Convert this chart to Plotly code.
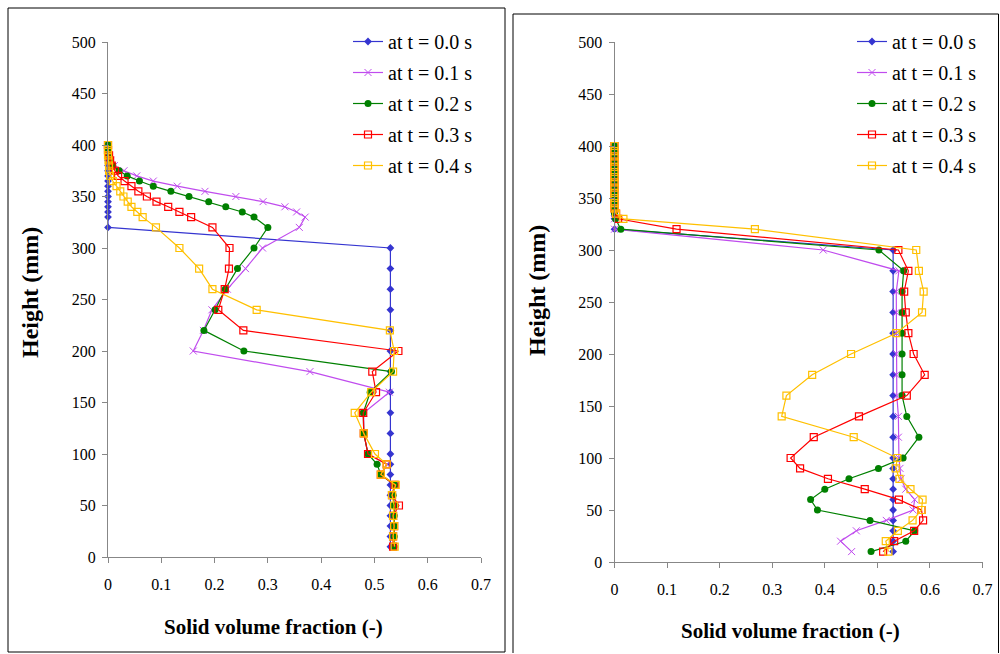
import plotly.graph_objects as go

# ---------------- data ----------------
heights = [400, 395, 390, 385, 380, 375, 370, 365, 360, 355, 350, 345, 340, 335, 330,
           320, 300, 280, 260, 240, 220, 200, 180, 160, 140, 120, 100,
           90, 80, 70, 60, 50, 40, 30, 20, 10]

series_names = ["at t = 0.0 s", "at t = 0.1 s", "at t = 0.2 s", "at t = 0.3 s", "at t = 0.4 s"]

# left panel
left_t00 = [0, 0, 0, 0, 0, 0, 0, 0, 0, 0, 0, 0, 0, 0, 0,
            0, 0.53, 0.53, 0.53, 0.53, 0.53, 0.53, 0.53, 0.53, 0.53, 0.53, 0.53,
            0.53, 0.53, 0.53, 0.53, 0.53, 0.53, 0.53, 0.53, 0.53]
left_t01 = [0, 0, 0, 0.005, 0.012, 0.03, 0.054, 0.085, 0.13, 0.182, 0.24, 0.291, 0.332, 0.354, 0.37,
            0.359, 0.29, 0.258, 0.224, 0.195, 0.179, 0.16, 0.379, 0.528, 0.48, 0.48, 0.488,
            0.524, 0.512, 0.538, 0.533, 0.54, 0.535, 0.537, 0.535, 0.537]
left_t02 = [0, 0, 0, 0.003, 0.009, 0.021, 0.036, 0.059, 0.085, 0.118, 0.152, 0.189, 0.221, 0.252, 0.274,
            0.300, 0.274, 0.243, 0.220, 0.201, 0.180, 0.255, 0.532, 0.492, 0.479, 0.480, 0.488,
            0.505, 0.512, 0.538, 0.535, 0.537, 0.537, 0.537, 0.537, 0.537]
left_t03 = [0, 0, 0.002, 0.004, 0.007, 0.013, 0.019, 0.031, 0.044, 0.057, 0.073, 0.091, 0.113, 0.134, 0.156,
            0.196, 0.228, 0.227, 0.219, 0.207, 0.254, 0.545, 0.496, 0.503, 0.479, 0.480, 0.488,
            0.523, 0.512, 0.538, 0.533, 0.546, 0.535, 0.537, 0.535, 0.535]
left_t04 = [0, 0, 0, 0.001, 0.002, 0.002, 0.004, 0.009, 0.016, 0.023, 0.029, 0.037, 0.044, 0.055, 0.065,
            0.090, 0.134, 0.171, 0.196, 0.279, 0.529, 0.537, 0.535, 0.494, 0.463, 0.480, 0.501,
            0.523, 0.512, 0.540, 0.533, 0.537, 0.535, 0.537, 0.535, 0.538]

# right panel
right_t00 = [0, 0, 0, 0, 0, 0, 0, 0, 0, 0, 0, 0, 0, 0, 0,
             0, 0.53, 0.53, 0.53, 0.53, 0.53, 0.53, 0.53, 0.53, 0.53, 0.53, 0.53,
             0.53, 0.53, 0.53, 0.53, 0.53, 0.53, 0.53, 0.53, 0.53]
right_t01 = [0, 0, 0, 0, 0, 0, 0, 0, 0, 0, 0, 0, 0, 0, 0,
             0, 0.397, 0.541, 0.536, 0.536, 0.536, 0.536, 0.536, 0.537, 0.540, 0.540, 0.541,
             0.543, 0.545, 0.554, 0.571, 0.568, 0.517, 0.460, 0.430, 0.451]
right_t02 = [0, 0, 0, 0, 0, 0, 0, 0, 0, 0, 0, 0, 0, 0, 0.002,
             0.012, 0.503, 0.550, 0.547, 0.547, 0.547, 0.547, 0.547, 0.547, 0.556, 0.579, 0.549,
             0.502, 0.446, 0.400, 0.373, 0.386, 0.486, 0.571, 0.554, 0.488]
right_t03 = [0, 0, 0, 0, 0, 0, 0, 0, 0, 0, 0, 0, 0, 0.003, 0.007,
             0.118, 0.540, 0.559, 0.551, 0.554, 0.559, 0.569, 0.590, 0.556, 0.465, 0.379, 0.335,
             0.353, 0.406, 0.476, 0.541, 0.584, 0.587, 0.570, 0.532, 0.511]
right_t04 = [0, 0, 0, 0, 0, 0, 0, 0, 0, 0, 0, 0, 0, 0.003, 0.017,
             0.267, 0.574, 0.579, 0.588, 0.585, 0.536, 0.450, 0.376, 0.327, 0.318, 0.455, 0.538,
             0.535, 0.542, 0.563, 0.586, 0.584, 0.567, 0.539, 0.516, 0.521]

x_ticks = [0, 0.1, 0.2, 0.3, 0.4, 0.5, 0.6, 0.7]
x_ticktext = ["0", "0.1", "0.2", "0.3", "0.4", "0.5", "0.6", "0.7"]
y_ticks = [0, 50, 100, 150, 200, 250, 300, 350, 400, 450, 500]

# ---------------- styles ----------------
SERIF = "Liberation Serif, Times New Roman, serif"
colors = ["#3535D0", "#C04CEE", "#008000", "#FF0000", "#FFC000"]
markers = [
    dict(symbol="diamond", size=6, color=colors[0]),
    dict(symbol="x-thin", size=7, color=colors[1], line=dict(width=1, color=colors[1])),
    dict(symbol="circle", size=7, color=colors[2]),
    dict(symbol="square-open", size=7, color=colors[3], line=dict(width=1.2, color=colors[3])),
    dict(symbol="square-open", size=7, color=colors[4], line=dict(width=1.2, color=colors[4])),
]

# positions below are page pixels of the 1000x654 window
W, H = 999, 653
def fx(x):
    return x / W
def fy(y):
    return 1 - y / H

fig = go.Figure()

left_series = [left_t00, left_t01, left_t02, left_t03, left_t04]
right_series = [right_t00, right_t01, right_t02, right_t03, right_t04]

for i, vals in enumerate(left_series):
    fig.add_trace(go.Scatter(
        x=vals, y=heights, mode="lines+markers", name=series_names[i],
        line=dict(color=colors[i], width=1.2), marker=markers[i],
        xaxis="x", yaxis="y", legend="legend", legendgroup="L%d" % i,
        cliponaxis=False))
for i, vals in enumerate(right_series):
    fig.add_trace(go.Scatter(
        x=vals, y=heights, mode="lines+markers", name=series_names[i],
        line=dict(color=colors[i], width=1.2), marker=markers[i],
        xaxis="x2", yaxis="y2", legend="legend2", legendgroup="R%d" % i,
        cliponaxis=False))

tick_font = dict(family=SERIF, size=16, color="#000000")
axis_common = dict(showline=True, linecolor="#878787", linewidth=1, ticks="outside",
                   ticklen=5, tickcolor="#878787", tickwidth=1, showgrid=False,
                   zeroline=False, tickfont=tick_font, automargin=False)

leg_font = dict(family=SERIF, size=20, color="#000000")
legend_common = dict(font=leg_font, bgcolor="rgba(0,0,0,0)", borderwidth=0,
                     tracegroupgap=2, xanchor="left", yanchor="top")

fig.update_layout(
    width=W, height=H, margin=dict(l=0, r=0, t=0, b=0, autoexpand=False),
    paper_bgcolor="white", plot_bgcolor="white",
    font=dict(family=SERIF, size=16, color="#000000"),
    xaxis=dict(domain=[fx(108), fx(481)], range=[0, 0.7], tickvals=x_ticks,
               ticktext=x_ticktext, anchor="y", ticklabelstandoff=8, **axis_common),
    yaxis=dict(domain=[fy(557), fy(42)], range=[0, 500], tickvals=y_ticks,
               anchor="x", ticklabelstandoff=3, **axis_common),
    xaxis2=dict(domain=[fx(614.5), fx(982.5)], range=[0, 0.7], tickvals=x_ticks,
                ticktext=x_ticktext, anchor="y2", ticklabelstandoff=8, **axis_common),
    yaxis2=dict(domain=[fy(562), fy(42)], range=[0, 500], tickvals=y_ticks,
                anchor="x2", ticklabelstandoff=3, **axis_common),
    legend=dict(x=fx(348), y=fy(22), **legend_common),
    legend2=dict(x=fx(852), y=fy(22), **legend_common),
    showlegend=True,
)

xt_font = dict(family=SERIF, size=21, color="#000000")
yt_font = dict(family=SERIF, size=24, color="#000000")
annotations = [
    dict(text="<b>Solid volume fraction (-)</b>", x=fx(273), y=fy(627), xref="paper", yref="paper",
         showarrow=False, font=xt_font, xanchor="center", yanchor="middle"),
    dict(text="<b>Height (mm)</b>", x=fx(30), y=fy(293), xref="paper", yref="paper",
         showarrow=False, font=yt_font, textangle=-90, xanchor="center", yanchor="middle"),
    dict(text="<b>Solid volume fraction (-)</b>", x=fx(790), y=fy(631), xref="paper", yref="paper",
         showarrow=False, font=xt_font, xanchor="center", yanchor="middle"),
    dict(text="<b>Height (mm)</b>", x=fx(537), y=fy(291), xref="paper", yref="paper",
         showarrow=False, font=yt_font, textangle=-90, xanchor="center", yanchor="middle"),
]
fig.update_layout(annotations=annotations)

shapes = [
    dict(type="rect", xref="paper", yref="paper", x0=fx(8), y0=fy(652), x1=fx(505), y1=fy(8),
         line=dict(color="#000000", width=1), fillcolor="rgba(0,0,0,0)", layer="below"),
    dict(type="rect", xref="paper", yref="paper", x0=fx(513), y0=fy(662), x1=fx(998.5), y1=fy(14),
         line=dict(color="#000000", width=1), fillcolor="rgba(0,0,0,0)", layer="below"),
]
fig.update_layout(shapes=shapes)

fig.write_html("out.html")
